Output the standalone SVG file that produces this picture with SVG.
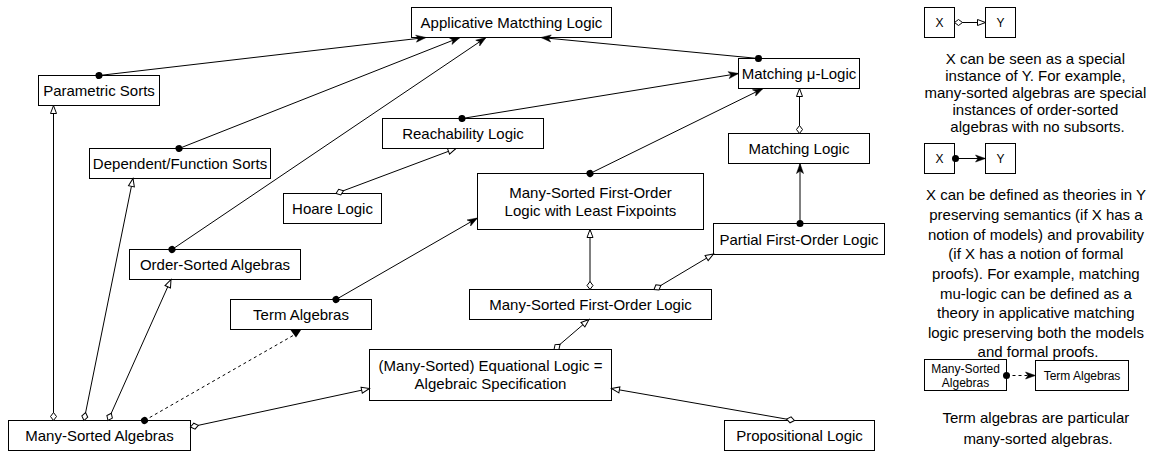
<svg xmlns="http://www.w3.org/2000/svg" width="1156" height="451" viewBox="0 0 1156 451">
  <style>
    .box { fill: #ffffff; stroke: #000000; stroke-width: 1; }
    .lbl { font-family: "Liberation Sans", Arial, Helvetica, sans-serif; font-size: 15px; fill: #000000; text-anchor: middle; }
    .sm { font-size: 12px; }
    .edge { fill: none; stroke: #000000; stroke-width: 1; }
    .dash { stroke-dasharray: 3 3; }
    .def { marker-start: url(#dot); marker-end: url(#arrow); }
    .spec { marker-start: url(#diamond); marker-end: url(#tri); }
  </style>
  <defs>
    <!-- filled arrowhead with a notch -->
    <marker id="arrow" markerUnits="userSpaceOnUse" markerWidth="11" markerHeight="8" refX="10" refY="3.5" orient="auto" overflow="visible">
      <path d="M0,0 L10,3.5 L0,7 L2.5,3.5 Z" fill="#000000" stroke="#000000" stroke-width="0.5"/>
    </marker>
    <!-- open triangle -->
    <marker id="tri" markerUnits="userSpaceOnUse" markerWidth="10" markerHeight="8" refX="8.5" refY="3.5" orient="auto" overflow="visible">
      <path d="M0.5,0.5 L8.5,3.5 L0.5,6.5 Z" fill="#ffffff" stroke="#000000" stroke-width="1"/>
    </marker>
    <!-- open diamond at the source end -->
    <marker id="diamond" markerUnits="userSpaceOnUse" markerWidth="10" markerHeight="8" refX="0.5" refY="3.5" orient="auto" overflow="visible">
      <path d="M0.5,3.5 L4.5,0.5 L8.5,3.5 L4.5,6.5 Z" fill="#ffffff" stroke="#000000" stroke-width="1"/>
    </marker>
    <!-- filled dot at the source end -->
    <marker id="dot" markerUnits="userSpaceOnUse" markerWidth="8" markerHeight="8" refX="4" refY="4" orient="auto" overflow="visible">
      <circle cx="4" cy="4" r="3.5" fill="#000000"/>
    </marker>
  </defs>

  <g id="nodes">
    <g id="applicative-matching-logic">
      <rect class="box" x="411.5" y="7.5" width="200" height="30"/>
      <text class="lbl" x="511.5" y="28">Applicative Matcthing Logic</text>
    </g>
    <g id="parametric-sorts">
      <rect class="box" x="38.5" y="75.5" width="121" height="30"/>
      <text class="lbl" x="99" y="96">Parametric Sorts</text>
    </g>
    <g id="dependent-function-sorts">
      <rect class="box" x="89.5" y="148.5" width="181" height="30"/>
      <text class="lbl" x="180" y="169">Dependent/Function Sorts</text>
    </g>
    <g id="matching-mu-logic">
      <rect class="box" x="738.5" y="58.5" width="121" height="30"/>
      <text class="lbl" x="799" y="79">Matching μ-Logic</text>
    </g>
    <g id="reachability-logic">
      <rect class="box" x="382.5" y="118.5" width="161" height="30"/>
      <text class="lbl" x="463" y="139">Reachability Logic</text>
    </g>
    <g id="matching-logic">
      <rect class="box" x="728.5" y="133.5" width="141" height="30"/>
      <text class="lbl" x="799" y="154">Matching Logic</text>
    </g>
    <g id="hoare-logic">
      <rect class="box" x="283.5" y="193.5" width="98" height="30"/>
      <text class="lbl" x="332.5" y="214">Hoare Logic</text>
    </g>
    <g id="ms-fol-fixpoints">
      <rect class="box" x="477.5" y="173.5" width="226" height="56"/>
      <text class="lbl" x="590.5" y="198">Many-Sorted First-Order</text>
      <text class="lbl" x="590.5" y="215.5">Logic with Least Fixpoints</text>
    </g>
    <g id="partial-fol">
      <rect class="box" x="713.5" y="223.5" width="171" height="31"/>
      <text class="lbl" x="799" y="244.5">Partial First-Order Logic</text>
    </g>
    <g id="order-sorted-algebras">
      <rect class="box" x="129.5" y="249.5" width="171" height="30"/>
      <text class="lbl" x="215" y="270">Order-Sorted Algebras</text>
    </g>
    <g id="ms-fol">
      <rect class="box" x="469.5" y="289.5" width="242" height="30"/>
      <text class="lbl" x="590.5" y="310">Many-Sorted First-Order Logic</text>
    </g>
    <g id="term-algebras">
      <rect class="box" x="230.5" y="299.5" width="141" height="30"/>
      <text class="lbl" x="301" y="320">Term Algebras</text>
    </g>
    <g id="equational-logic">
      <rect class="box" x="369.5" y="349.5" width="242" height="51"/>
      <text class="lbl" x="490.5" y="371">(Many-Sorted) Equational Logic =</text>
      <text class="lbl" x="490.5" y="389">Algebraic Specification</text>
    </g>
    <g id="many-sorted-algebras">
      <rect class="box" x="8.5" y="420.5" width="182" height="30"/>
      <text class="lbl" x="99.5" y="441">Many-Sorted Algebras</text>
    </g>
    <g id="propositional-logic">
      <rect class="box" x="724.5" y="420.5" width="150" height="30"/>
      <text class="lbl" x="799.5" y="441">Propositional Logic</text>
    </g>
  </g>

  <g id="connectors">
    <!-- definable-in relations -->
    <line class="edge def" x1="99" y1="75.5" x2="426" y2="37.5"/>
    <line class="edge def" x1="179" y1="148.5" x2="460" y2="37.5"/>
    <line class="edge def" x1="172" y1="249.5" x2="486" y2="37.5"/>
    <line class="edge def" x1="758.5" y1="58.5" x2="541" y2="37.5"/>
    <line class="edge def" x1="462" y1="118.5" x2="738.5" y2="73.5"/>
    <line class="edge def" x1="590" y1="173.5" x2="763" y2="88.5"/>
    <line class="edge def" x1="800" y1="223.5" x2="800" y2="163.5"/>
    <line class="edge def" x1="336" y1="299.5" x2="477.5" y2="218"/>
    <!-- special-instance relations -->
    <line class="edge spec" x1="799.5" y1="133.5" x2="799.5" y2="88.5"/>
    <line class="edge spec" x1="336" y1="193.5" x2="456" y2="148.5"/>
    <line class="edge spec" x1="590" y1="289.5" x2="590" y2="229.5"/>
    <line class="edge spec" x1="654" y1="289.5" x2="713.5" y2="254"/>
    <line class="edge spec" x1="554" y1="349.5" x2="589" y2="319.5"/>
    <line class="edge spec" x1="794.5" y1="420.5" x2="611.5" y2="388.5"/>
    <line class="edge spec" x1="53.5" y1="420.5" x2="53.5" y2="105.5"/>
    <line class="edge spec" x1="84" y1="420.5" x2="133" y2="178.5"/>
    <line class="edge spec" x1="108" y1="420.5" x2="171" y2="279.5"/>
    <line class="edge spec" x1="190.5" y1="427" x2="369.5" y2="388.5"/>
    <!-- particular-case relation -->
    <line class="edge dash" x1="144.5" y1="420.5" x2="294" y2="335" marker-start="url(#dot)"/>
    <path d="M290.5,330 L301,330 L296,337.5 Z" fill="#000000"/>
  </g>

  <g id="legend">
    <g id="legend-instance">
      <rect class="box" x="924.5" y="7.5" width="30" height="30"/>
      <text class="lbl sm" x="939.5" y="27">X</text>
      <rect class="box" x="985.5" y="7.5" width="30" height="30"/>
      <text class="lbl sm" x="1000.5" y="27">Y</text>
      <line class="edge spec" x1="954.5" y1="22.5" x2="985.5" y2="22.5"/>
      <text class="lbl" x="1037.5">
        <tspan x="1037.5" y="63.5">X can be seen as a special</tspan>
        <tspan x="1037.5" y="80.5">instance of Y. For example,</tspan>
        <tspan x="1037.5" y="97.5">many-sorted algebras are special</tspan>
        <tspan x="1037.5" y="114.5">instances of order-sorted</tspan>
        <tspan x="1037.5" y="131.5">algebras with no subsorts.</tspan>
      </text>
    </g>
    <g id="legend-definable">
      <rect class="box" x="924.5" y="143.5" width="30" height="30"/>
      <text class="lbl sm" x="939.5" y="163">X</text>
      <rect class="box" x="985.5" y="143.5" width="30" height="30"/>
      <text class="lbl sm" x="1000.5" y="163">Y</text>
      <line class="edge def" x1="955.5" y1="158.5" x2="985.5" y2="158.5"/>
      <text class="lbl" x="1038">
        <tspan x="1038" y="200">X can be defined as theories in Y</tspan>
        <tspan x="1038" y="220">preserving semantics (if X has a</tspan>
        <tspan x="1038" y="239.5">notion of models) and provability</tspan>
        <tspan x="1038" y="259">(if X has a notion of formal</tspan>
        <tspan x="1038" y="279">proofs). For example, matching</tspan>
        <tspan x="1038" y="298.5">mu-logic can be defined as a</tspan>
        <tspan x="1038" y="318">theory in applicative matching</tspan>
        <tspan x="1038" y="337.5">logic preserving both the models</tspan>
        <tspan x="1038" y="356.5">and formal proofs.</tspan>
      </text>
    </g>
    <g id="legend-particular">
      <rect class="box" x="924.5" y="359.5" width="82" height="31"/>
      <text class="lbl sm" x="965.5" y="372.5">Many-Sorted</text>
      <text class="lbl sm" x="965.5" y="386.5">Algebras</text>
      <rect class="box" x="1035.5" y="360.5" width="93" height="30"/>
      <text class="lbl sm" x="1082" y="379.5">Term Algebras</text>
      <line class="edge dash" x1="1006.5" y1="375.5" x2="1035.5" y2="375.5" marker-start="url(#dot)" marker-end="url(#arrow)"/>
      <text class="lbl" x="1038">
        <tspan x="1038" y="422.5">Term algebras are particular</tspan>
        <tspan x="1038" y="443.5">many-sorted algebras.</tspan>
      </text>
    </g>
  </g>
</svg>
